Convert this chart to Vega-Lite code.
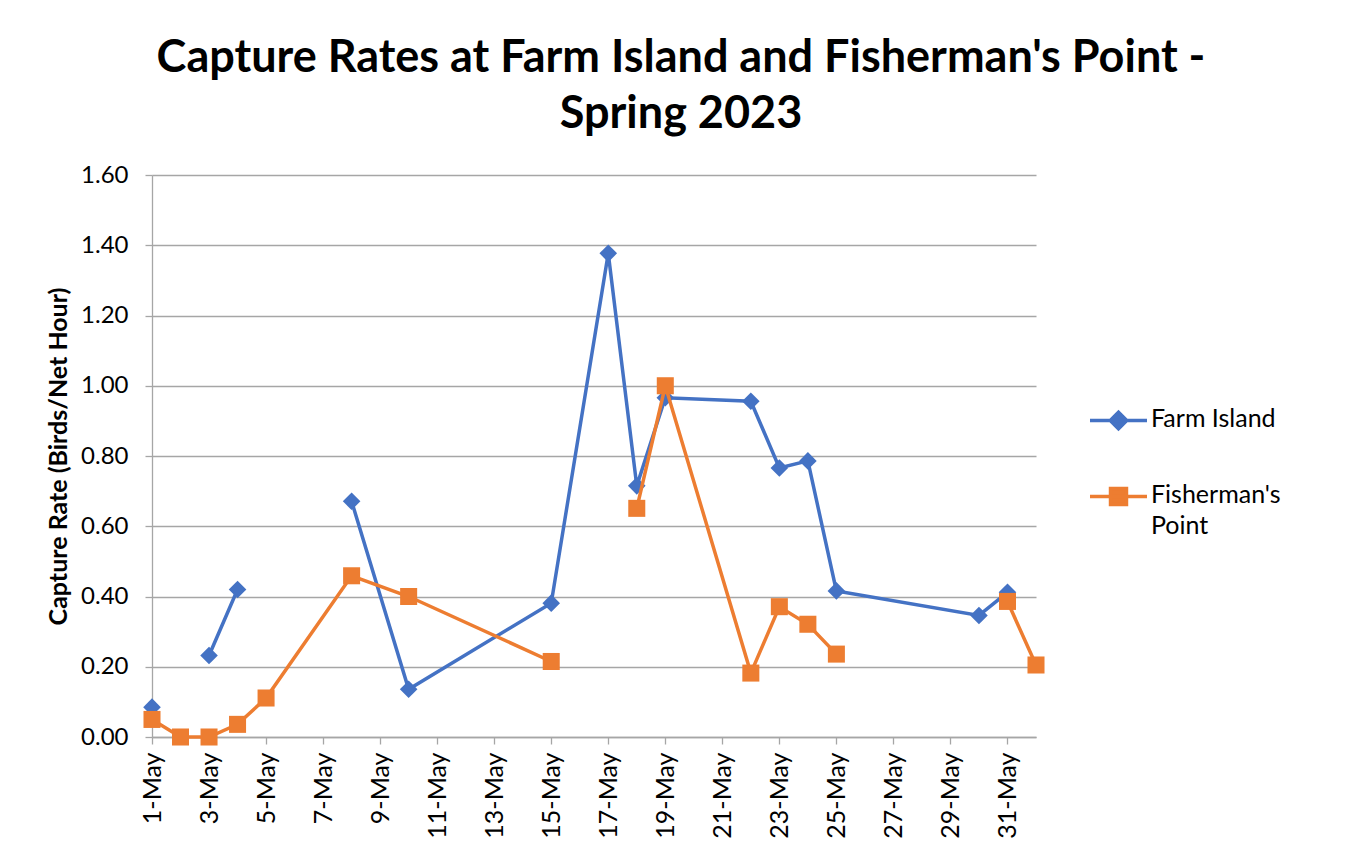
{
  "$schema": "https://vega.github.io/schema/vega-lite/v6.json",
  "autosize": {"type": "none"},
  "padding": {"left": 152, "top": 175, "right": 321, "bottom": 112},
  "width": 884,
  "height": 562,
  "background": "white",
  "config": {
    "view": {"stroke": null},
    "font": "Lato",
    "axis": {
      "labelFont": "Lato",
      "labelFontSize": 24,
      "labelColor": "#000000",
      "titleFont": "Lato",
      "titleColor": "#000000",
      "domainColor": "#a6a6a6",
      "domainWidth": 1.3,
      "tickColor": "#a6a6a6",
      "tickWidth": 1.3,
      "gridColor": "#a6a6a6",
      "gridWidth": 1.3
    }
  },
  "title": {
    "text": ["Capture Rates at Farm Island and Fisherman's Point -", "Spring 2023"],
    "font": "Lato",
    "fontSize": 45,
    "fontWeight": "bold",
    "color": "#000000",
    "anchor": "middle",
    "frame": "group",
    "lineHeight": 56,
    "dx": 87,
    "offset": 26
  },
  "data": {
    "values": [
      {"date": "2023-05-01", "site": "Farm Island", "rate": 0.085},
      {"date": "2023-05-02", "site": "Farm Island", "rate": null},
      {"date": "2023-05-03", "site": "Farm Island", "rate": 0.232},
      {"date": "2023-05-04", "site": "Farm Island", "rate": 0.42},
      {"date": "2023-05-05", "site": "Farm Island", "rate": null},
      {"date": "2023-05-08", "site": "Farm Island", "rate": 0.671},
      {"date": "2023-05-10", "site": "Farm Island", "rate": 0.136},
      {"date": "2023-05-15", "site": "Farm Island", "rate": 0.381},
      {"date": "2023-05-17", "site": "Farm Island", "rate": 1.377},
      {"date": "2023-05-18", "site": "Farm Island", "rate": 0.715},
      {"date": "2023-05-19", "site": "Farm Island", "rate": 0.966},
      {"date": "2023-05-22", "site": "Farm Island", "rate": 0.956},
      {"date": "2023-05-23", "site": "Farm Island", "rate": 0.766},
      {"date": "2023-05-24", "site": "Farm Island", "rate": 0.786},
      {"date": "2023-05-25", "site": "Farm Island", "rate": 0.416},
      {"date": "2023-05-30", "site": "Farm Island", "rate": 0.346},
      {"date": "2023-05-31", "site": "Farm Island", "rate": 0.412},
      {"date": "2023-05-01", "site": "Fisherman's Point", "rate": 0.05},
      {"date": "2023-05-02", "site": "Fisherman's Point", "rate": 0.0},
      {"date": "2023-05-03", "site": "Fisherman's Point", "rate": 0.0},
      {"date": "2023-05-04", "site": "Fisherman's Point", "rate": 0.036},
      {"date": "2023-05-05", "site": "Fisherman's Point", "rate": 0.111},
      {"date": "2023-05-08", "site": "Fisherman's Point", "rate": 0.459},
      {"date": "2023-05-10", "site": "Fisherman's Point", "rate": 0.4},
      {"date": "2023-05-15", "site": "Fisherman's Point", "rate": 0.215},
      {"date": "2023-05-17", "site": "Fisherman's Point", "rate": null},
      {"date": "2023-05-18", "site": "Fisherman's Point", "rate": 0.651},
      {"date": "2023-05-19", "site": "Fisherman's Point", "rate": 1.0},
      {"date": "2023-05-22", "site": "Fisherman's Point", "rate": 0.182},
      {"date": "2023-05-23", "site": "Fisherman's Point", "rate": 0.371},
      {"date": "2023-05-24", "site": "Fisherman's Point", "rate": 0.321},
      {"date": "2023-05-25", "site": "Fisherman's Point", "rate": 0.236},
      {"date": "2023-05-30", "site": "Fisherman's Point", "rate": null},
      {"date": "2023-05-31", "site": "Fisherman's Point", "rate": 0.386},
      {"date": "2023-06-01", "site": "Fisherman's Point", "rate": 0.205}
    ]
  },
  "encoding": {
    "x": {
      "field": "date",
      "type": "temporal",
      "scale": {
        "type": "utc",
        "domain": [
          {"year": 2023, "month": 5, "date": 1, "utc": true},
          {"year": 2023, "month": 6, "date": 1, "utc": true}
        ]
      },
      "axis": {
        "title": null,
        "format": "%-d-%b",
        "labelAngle": -90,
        "labelFontSize": 25,
        "labelPadding": 8,
        "tickSize": 7,
        "grid": false,
        "values": [
          {"year": 2023, "month": 5, "date": 1, "utc": true},
          {"year": 2023, "month": 5, "date": 3, "utc": true},
          {"year": 2023, "month": 5, "date": 5, "utc": true},
          {"year": 2023, "month": 5, "date": 7, "utc": true},
          {"year": 2023, "month": 5, "date": 9, "utc": true},
          {"year": 2023, "month": 5, "date": 11, "utc": true},
          {"year": 2023, "month": 5, "date": 13, "utc": true},
          {"year": 2023, "month": 5, "date": 15, "utc": true},
          {"year": 2023, "month": 5, "date": 17, "utc": true},
          {"year": 2023, "month": 5, "date": 19, "utc": true},
          {"year": 2023, "month": 5, "date": 21, "utc": true},
          {"year": 2023, "month": 5, "date": 23, "utc": true},
          {"year": 2023, "month": 5, "date": 25, "utc": true},
          {"year": 2023, "month": 5, "date": 27, "utc": true},
          {"year": 2023, "month": 5, "date": 29, "utc": true},
          {"year": 2023, "month": 5, "date": 31, "utc": true}
        ]
      }
    },
    "y": {
      "field": "rate",
      "type": "quantitative",
      "scale": {"domain": [0, 1.6], "nice": false, "zero": true},
      "axis": {
        "title": "Capture Rate (Birds/Net Hour)",
        "titleFontSize": 25,
        "titleFontWeight": "bold",
        "titlePadding": 9,
        "format": ".2f",
        "values": [0, 0.2, 0.4, 0.6, 0.8, 1.0, 1.2, 1.4, 1.6],
        "tickSize": 7,
        "labelPadding": 17,
        "grid": true
      }
    },
    "color": {
      "field": "site",
      "type": "nominal",
      "scale": {
        "domain": ["Farm Island", "Fisherman's Point"],
        "range": ["#4472C4", "#ED7D31"]
      },
      "legend": {
        "title": null,
        "orient": "none",
        "legendX": 936,
        "legendY": 215,
        "padding": 0,
        "symbolSize": 3249,
        "rowPadding": 30,
        "labelFont": "Lato",
        "labelFontSize": 25,
        "labelColor": "#000000",
        "labelOffset": 2,
        "labelBaseline": "top",
        "labelLimit": 300,
        "labelExpr": "datum.label == \"Fisherman's Point\" ? [\"Fisherman's\", \"Point\"] : datum.label",
        "encode": {
          "symbols": {
            "update": {
              "shape": {"signal": "datum.value == 'Farm Island' ? 'M-1,0H1M0,-0.29L0.29,0L0,0.29L-0.29,0Z' : 'M-1,0H1M-0.28,-0.28H0.28V0.28H-0.28Z'"},
              "fill": {"scale": "color", "field": "value"},
              "stroke": {"scale": "color", "field": "value"},
              "strokeWidth": {"value": 3.5},
              "opacity": {"value": 1},
              "fillOpacity": {"value": 1}
            }
          },
          "labels": {
            "update": {
              "dy": {"value": -14},
              "lineHeight": {"value": 31}
            }
          }
        }
      }
    }
  },
  "layer": [
    {
      "transform": [{"filter": "datum.site == 'Farm Island'"}],
      "mark": {"type": "line", "strokeWidth": 3.5, "invalid": "break-paths-show-domains"}
    },
    {
      "transform": [{"filter": "datum.site == 'Farm Island' && isValid(datum.rate)"}],
      "mark": {"type": "point", "shape": "diamond", "filled": true, "size": 310, "opacity": 1}
    },
    {
      "transform": [{"filter": "datum.site != 'Farm Island'"}],
      "mark": {"type": "line", "strokeWidth": 3.5, "invalid": "break-paths-show-domains"}
    },
    {
      "transform": [{"filter": "datum.site != 'Farm Island' && isValid(datum.rate)"}],
      "mark": {"type": "point", "shape": "square", "filled": true, "size": 290, "opacity": 1}
    }
  ]
}
